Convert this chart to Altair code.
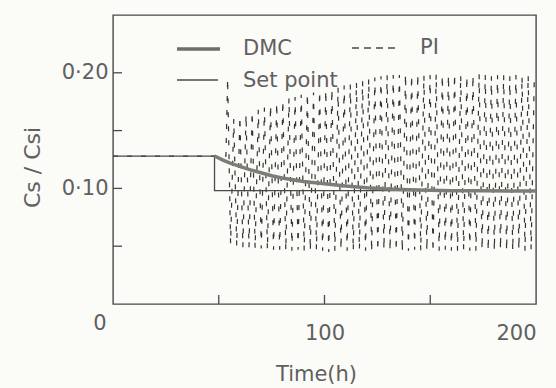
import altair as alt
import pandas as pd

# Set point trajectory: step change at t = 48 h
SP_T = [0, 48, 48, 200]
SP_V = [0.128, 0.128, 0.098, 0.098]

# DMC controlled response
DMC_T = [48, 52, 56, 60, 65, 70, 75, 80, 90, 100, 110, 120, 130, 140, 150, 160, 175, 190, 200]
DMC_V = [0.128, 0.1245, 0.1215, 0.119, 0.116, 0.1135, 0.111, 0.109, 0.106, 0.1040,
         0.1020, 0.1005, 0.0995, 0.0988, 0.0983, 0.0980, 0.0979, 0.0978, 0.0978]

# PI controlled response: sustained oscillation (peaks and troughs)
PI_START_T = [0, 53.4]
PI_START_V = [0.128, 0.128]
PI_PEAK_T = [54.2, 57.1, 60.0, 62.9, 65.8, 68.7, 71.6, 74.5, 77.4, 80.3,
             83.2, 86.1, 89.0, 91.9, 94.8, 97.7, 100.6, 103.5, 106.4, 109.3,
             112.2, 115.1, 118.0, 120.9, 123.8, 126.7, 129.6, 132.5, 135.4, 138.3,
             141.2, 144.1, 147.0, 149.9, 152.8, 155.7, 158.6, 161.5, 164.4, 167.3,
             170.2, 173.1, 176.0, 178.9, 181.8, 184.7, 187.6, 190.5, 193.4, 196.3,
             199.2]
PI_PEAK_V = [0.195, 0.160, 0.162, 0.164, 0.166, 0.168, 0.170, 0.172, 0.174, 0.176,
             0.178, 0.179, 0.181, 0.182, 0.183, 0.184, 0.185, 0.186, 0.187, 0.189,
             0.190, 0.192, 0.193, 0.195, 0.196, 0.197, 0.198, 0.198, 0.198, 0.199,
             0.198, 0.199, 0.198, 0.198, 0.199, 0.198, 0.198, 0.199, 0.198, 0.197,
             0.198, 0.199, 0.198, 0.197, 0.198, 0.198, 0.197, 0.198, 0.197, 0.198,
             0.197]
PI_TROUGH_T = [55.6, 58.5, 61.4, 64.3, 67.2, 70.1, 73.0, 75.9, 78.8, 81.7,
               84.6, 87.5, 90.4, 93.3, 96.2, 99.1, 102.0, 104.9, 107.8, 110.7,
               113.6, 116.5, 119.4, 122.3, 125.2, 128.1, 131.0, 133.9, 136.8, 139.7,
               142.6, 145.5, 148.4, 151.3, 154.2, 157.1, 160.0, 162.9, 165.8, 168.7,
               171.6, 174.5, 177.4, 180.3, 183.2, 186.1, 189.0, 191.9, 194.8, 197.7]
PI_TROUGH_V = [0.052, 0.050, 0.049, 0.049, 0.048, 0.048, 0.047, 0.047, 0.047, 0.046,
               0.046, 0.047, 0.046, 0.046, 0.047, 0.046, 0.045, 0.046, 0.047, 0.046,
               0.046, 0.047, 0.046, 0.045, 0.046, 0.047, 0.046, 0.046, 0.045, 0.046,
               0.047, 0.046, 0.046, 0.045, 0.046, 0.047, 0.046, 0.046, 0.047, 0.046,
               0.046, 0.047, 0.046, 0.046, 0.047, 0.046, 0.046, 0.047, 0.046, 0.047]

Y_TICKS = [0.05, 0.10, 0.15, 0.20]
X_TICKS = [50, 100, 150]

INK = "#4a4a4a"
TEXT = "#606060"
FONT = "DejaVu Sans"

W, H = 423, 289

sp_df = pd.DataFrame({"t": SP_T, "v": SP_V, "o": range(len(SP_T))})
dmc_df = pd.DataFrame({"t": DMC_T, "v": DMC_V})
pi_df = pd.concat([
    pd.DataFrame({"t": PI_START_T, "v": PI_START_V}),
    pd.DataFrame({"t": PI_PEAK_T, "v": PI_PEAK_V}),
    pd.DataFrame({"t": PI_TROUGH_T, "v": PI_TROUGH_V}),
]).sort_values("t").reset_index(drop=True)

x_scale = alt.Scale(domain=[0, 200], nice=False)
y_scale = alt.Scale(domain=[0, 0.25], nice=False, zero=True)

x_enc = alt.X("t:Q", scale=x_scale, axis=alt.Axis(
    values=[100, 200], labelPadding=18, labelFontSize=21, title="Time(h)",
    titleFontSize=21, titleX=203, titleY=70, titleBaseline="middle",
    titleAlign="center"))
y_enc = alt.Y("v:Q", scale=y_scale, axis=alt.Axis(
    values=[0.1, 0.2], labelPadding=5, labelFontSize=21,
    labelExpr="replace(format(datum.value, '.2f'), '.', '·')",
    title="Cs / Csi", titleFontSize=22, titleX=-81, titleY=152,
    titleBaseline="middle", titleAlign="center", titleAngle=-90))

pi = alt.Chart(pi_df).mark_line(
    color="#333333", strokeWidth=1.2, strokeDash=[5, 9], interpolate="linear"
).encode(x=x_enc, y=y_enc)

sp = alt.Chart(sp_df).mark_line(color=INK, strokeWidth=1.3).encode(
    x=alt.X("t:Q", scale=x_scale), y=alt.Y("v:Q", scale=y_scale), order="o:Q")

dmc = alt.Chart(dmc_df).mark_line(color="#7d7d78", strokeWidth=3.5).encode(
    x=alt.X("t:Q", scale=x_scale), y=alt.Y("v:Q", scale=y_scale))

# inward tick marks on the frame
yt = alt.Chart(pd.DataFrame({"v": Y_TICKS})).mark_rule(color=INK, strokeWidth=1.3).encode(
    y=alt.Y("v:Q", scale=y_scale), x=alt.value(0), x2=alt.value(9))
xt = alt.Chart(pd.DataFrame({"t": X_TICKS})).mark_rule(color=INK, strokeWidth=1.3).encode(
    x=alt.X("t:Q", scale=x_scale), y=alt.value(H), y2=alt.value(H - 9))

# shared origin label
origin = alt.Chart(pd.DataFrame({"t": [0], "v": [0], "s": ["0"]})).mark_text(
    font=FONT, fontSize=21, color=TEXT, dx=-13, dy=20
).encode(x=alt.X("t:Q", scale=x_scale), y=alt.Y("v:Q", scale=y_scale), text="s:N")

# legend
leg_dmc_line = alt.Chart(pd.DataFrame({"a": [0]})).mark_rule(color="#6e6e6a", strokeWidth=3.5).encode(
    x=alt.value(64), x2=alt.value(107), y=alt.value(34))
leg_sp_line = alt.Chart(pd.DataFrame({"a": [0]})).mark_rule(color=INK, strokeWidth=1.4).encode(
    x=alt.value(64), x2=alt.value(105), y=alt.value(65))
leg_pi_line = alt.Chart(pd.DataFrame({"a": [0]})).mark_rule(color=INK, strokeWidth=1.5, strokeDash=[7, 5]).encode(
    x=alt.value(239), x2=alt.value(286), y=alt.value(33))
leg_text = alt.Chart(pd.DataFrame({
    "px": [130, 307, 130], "py": [34, 33, 66], "s": ["DMC", "PI", "Set point"]
})).mark_text(font=FONT, fontSize=21, color=TEXT, align="left", baseline="middle").encode(
    x=alt.X("px:Q", scale=None), y=alt.Y("py:Q", scale=None), text="s:N")

chart = alt.layer(
    pi, sp, dmc, yt, xt, origin, leg_dmc_line, leg_sp_line, leg_pi_line, leg_text
).properties(
    width=W, height=H, background="#fbfbf8",
    padding={"left": 113, "top": 15, "right": 20, "bottom": 84},
    autosize=alt.AutoSizeParams(type="none"),
).configure_view(
    stroke=INK, strokeWidth=1.4
).configure_axis(
    grid=False, domain=False, ticks=False, labelFont=FONT, titleFont=FONT,
    labelColor=TEXT, titleColor=TEXT, titleFontWeight="normal"
)

chart.save("out.html", embed_options={"renderer": "svg", "actions": False})
